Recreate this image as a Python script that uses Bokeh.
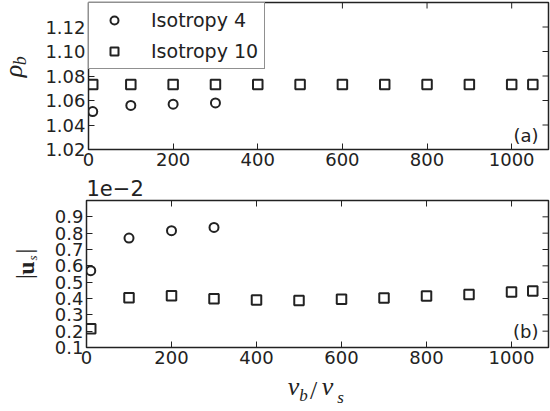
import math
from bokeh.plotting import figure
from bokeh.layouts import column, row
from bokeh.models import Range1d, FixedTicker, Label, PrintfTickFormatter
from bokeh.embed import file_html
from bokeh.resources import INLINE

# ---------------- data ----------------
nu_iso4 = [10, 100, 200, 300]
nu_iso10 = [10, 100, 200, 300, 400, 500, 600, 700, 800, 900, 1000, 1050]
rho_iso4 = [1.051, 1.056, 1.057, 1.058]
rho_iso10 = [1.073, 1.073, 1.073, 1.073, 1.073, 1.073, 1.073, 1.073, 1.073, 1.073, 1.073, 1.073]
# |u_s| in units of 1e-2
us_iso4 = [0.57, 0.77, 0.815, 0.835]
us_iso10 = [0.215, 0.405, 0.417, 0.399, 0.391, 0.388, 0.395, 0.403, 0.415, 0.425, 0.44, 0.446]

x_ticks = [0, 200, 400, 600, 800, 1000]
rho_ticks = [1.02, 1.04, 1.06, 1.08, 1.10, 1.12]
us_ticks = [0.1, 0.2, 0.3, 0.4, 0.5, 0.6, 0.7, 0.8, 0.9]
series_names = ["Isotropy 4", "Isotropy 10"]

# ---------------- style ----------------
INK = "#222222"
FONT = "DejaVu Sans"
MATH = "Liberation Serif"
XMAX = 1087
Y1 = (1.02, 1.14)
Y2 = (0.1, 1.0)
W = 550
LW = 42            # width of the strip holding the y labels
PW = W - LW        # width of each plot panel
H1, HS, H2, HB = 174, 25, 174, 38   # row heights (sum 411)


def style(p, yticks, fmt):
    p.background_fill_color = "white"
    p.border_fill_color = "white"
    p.outline_line_color = INK
    p.outline_line_width = 1.5
    p.xgrid.visible = False
    p.ygrid.visible = False
    for ax in (p.xaxis[0], p.yaxis[0]):
        ax.axis_line_color = None
        ax.major_tick_in = 6
        ax.major_tick_out = 0
        ax.major_tick_line_color = INK
        ax.major_tick_line_width = 1
        ax.minor_tick_line_color = None
        ax.major_label_text_font = FONT
        ax.major_label_text_font_size = "18px"
        ax.major_label_text_color = INK
        ax.major_label_standoff = 3
    p.xaxis[0].ticker = FixedTicker(ticks=x_ticks)
    p.yaxis[0].ticker = FixedTicker(ticks=yticks)
    p.yaxis[0].formatter = PrintfTickFormatter(format=fmt)
    # inward ticks on the top and right edges (half of each dash is clipped by the frame)
    yr = p.y_range
    p.scatter(x_ticks, [yr.end] * len(x_ticks), marker="dash", angle=math.pi / 2,
              size=12, line_color=INK, line_width=1)
    p.scatter([XMAX] * len(yticks), yticks, marker="dash", size=12,
              line_color=INK, line_width=1)


def text_fig(w, h, top_px, left_px=0):
    """A bare canvas whose data coordinates equal page pixels, for free text."""
    f = figure(width=w, height=h, output_backend="svg", toolbar_location=None,
               x_range=Range1d(left_px, left_px + w), y_range=Range1d(top_px + h, top_px),
               x_axis_type=None, y_axis_type=None, min_border=0)
    f.outline_line_color = None
    f.background_fill_color = "white"
    f.border_fill_color = "white"
    f.xgrid.visible = False
    f.ygrid.visible = False
    return f


def put(f, text, x, y, size, font=FONT, style_="normal", align="center",
        baseline="middle", angle=0.0):
    f.add_layout(Label(x=x, y=y, text=text, text_font=font, text_font_size=size,
                       text_font_style=style_, text_color=INK, text_align=align,
                       text_baseline=baseline, angle=angle))


# ---------------- top panel ----------------
p1 = figure(width=PW, height=H1, output_backend="svg", toolbar_location=None,
            x_range=Range1d(0, XMAX), y_range=Range1d(*Y1),
            min_border_left=86 - LW, min_border_right=2, min_border_top=2,
            min_border_bottom=H1 - 149)
p1.scatter(nu_iso4, rho_iso4, marker="circle", size=9, fill_color=None,
           line_color=INK, line_width=2, legend_label=series_names[0])
p1.scatter(nu_iso10, rho_iso10, marker="square", size=9.5, fill_color=None,
           line_color=INK, line_width=2, legend_label=series_names[1])
style(p1, rho_ticks, "%.2f")

lg = p1.legend[0]
lg.location = "top_left"
lg.margin = 0
lg.padding = 6
lg.spacing = 9
lg.glyph_width = 38
lg.glyph_height = 20
lg.label_standoff = 18
lg.label_width = 107
lg.label_height = 20
lg.label_text_font = FONT
lg.label_text_font_size = "19px"
lg.label_text_color = INK
lg.border_line_color = INK
lg.border_line_width = 1.5
lg.background_fill_color = "white"
lg.background_fill_alpha = 1.0

p1.add_layout(Label(x=XMAX, y=Y1[0], x_offset=-10, y_offset=14, text="(a)",
                    text_font=FONT, text_font_size="18px", text_color=INK,
                    text_align="right", text_baseline="middle"))

# y label rho_b
L1 = text_fig(LW, H1, 0)
put(L1, "ρ", 13, 81, "26px", font=MATH, style_="italic", angle=math.pi / 2)
put(L1, "b", 19, 69, "18px", font=MATH, style_="italic", angle=math.pi / 2)

# offset text strip "1e-2"
S = text_fig(W, HS, H1)
put(S, "1e\u22122", 86, 187, "21px", align="left")

# ---------------- bottom panel ----------------
top2 = H1 + HS
p2 = figure(width=PW, height=H2, output_backend="svg", toolbar_location=None,
            x_range=Range1d(0, XMAX), y_range=Range1d(*Y2),
            min_border_left=86 - LW, min_border_right=2, min_border_top=200 - top2,
            min_border_bottom=top2 + H2 - 347)
p2.scatter(nu_iso4, us_iso4, marker="circle", size=9, fill_color=None,
           line_color=INK, line_width=2)
p2.scatter(nu_iso10, us_iso10, marker="square", size=9.5, fill_color=None,
           line_color=INK, line_width=2)
style(p2, us_ticks, "%.1f")
p2.add_layout(Label(x=XMAX, y=Y2[0], x_offset=-10, y_offset=16, text="(b)",
                    text_font=FONT, text_font_size="18px", text_color=INK,
                    text_align="right", text_baseline="middle"))

# y label |u_s|
L2 = text_fig(LW, H2, top2)
put(L2, "|", 23, 289, "24px", font=MATH, angle=math.pi / 2)
put(L2, "u", 25, 279, "24px", font=MATH, style_="bold", angle=math.pi / 2)
put(L2, "s", 32, 267, "13px", font=MATH, style_="italic", angle=math.pi / 2)
put(L2, "|", 23, 259, "24px", font=MATH, angle=math.pi / 2)

# x label nu_b / nu_s
B = text_fig(W, HB, top2 + H2)
put(B, "ν", 293, 386, "26px", font=MATH, style_="italic")
put(B, "b", 303, 395, "17px", font=MATH, style_="italic")
put(B, "/", 313, 390, "26px", font=MATH)
put(B, "ν", 327, 386, "26px", font=MATH, style_="italic")
put(B, "s", 340, 397, "17px", font=MATH, style_="italic")

layout = column(row(L1, p1, spacing=0), S, row(L2, p2, spacing=0), B, spacing=0)
open("out.html", "w").write(file_html(layout, INLINE))
